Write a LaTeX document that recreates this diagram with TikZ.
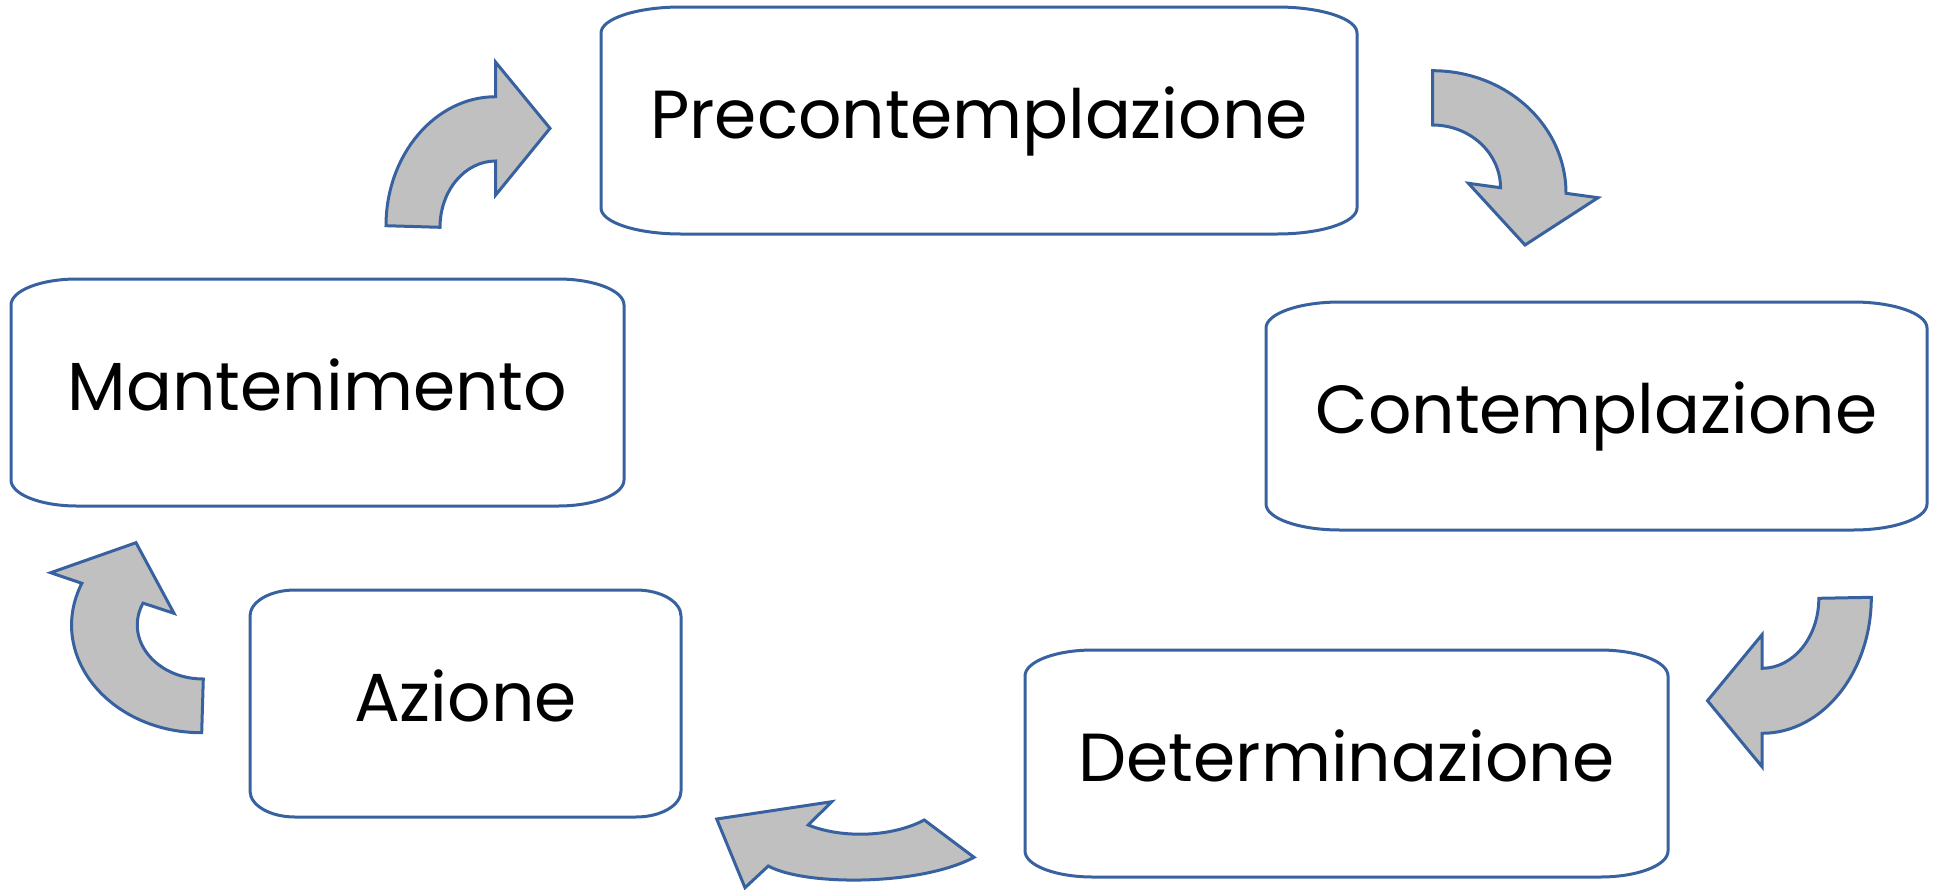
\documentclass[tikz,border=0pt]{standalone}
\usepackage{fontspec}
\setmainfont{Poppins}
\definecolor{edgeblue}{RGB}{56,97,160}
\definecolor{arrowgray}{RGB}{192,192,192}
\newcommand{\ovalbox}[2]{%
  \draw[edgeline] ([xshift=#2]#1.north west) -- ([xshift=-#2]#1.north east)
    arc[start angle=90, end angle=0, x radius=#2, y radius=13pt]
    -- ([yshift=13pt]#1.south east)
    arc[start angle=0, end angle=-90, x radius=#2, y radius=13pt]
    -- ([xshift=#2]#1.south west)
    arc[start angle=270, end angle=180, x radius=#2, y radius=13pt]
    -- ([yshift=-13pt]#1.north west)
    arc[start angle=180, end angle=90, x radius=#2, y radius=13pt]
    -- cycle;}
\begin{document}
\begin{tikzpicture}[x=0.5pt,y=-0.5pt,
  stage/.style={draw=none, inner sep=0pt, outer sep=0pt, text height=18pt, text depth=0.5pt,
    font=\fontsize{34}{38}\selectfont},
  edgeline/.style={draw=edgeblue, line width=1.5pt},
  bigarrow/.style={draw=edgeblue, fill=arrowgray, line width=1.5pt, line join=miter}]
\useasboundingbox (0,0) rectangle (1938,889);

\node[stage, minimum width=378pt, minimum height=113.5pt] (pre) at (979,120.5) {Precontemplazione};
\node[stage, minimum width=330.5pt, minimum height=114pt] (con) at (1596.5,416) {Contemplazione};
\node[stage, minimum width=321.5pt, minimum height=113.5pt] (det) at (1346.5,763.5) {Determinazione};
\node[stage, minimum width=215.5pt, minimum height=113.5pt] (azi) at (465.5,703.5) {Azione};
\node[stage, minimum width=306.5pt, minimum height=113.5pt] (man) at (317.5,392.5) {Mantenimento};

\ovalbox{pre}{40pt}
\ovalbox{con}{37pt}
\ovalbox{det}{34pt}
\ovalbox{azi}{22.5pt}
\ovalbox{man}{33pt}

% Mantenimento -> Precontemplazione
\draw[bigarrow] (440,227.3) -- (386,225.7) .. controls (386,154.8) and (435.2,96.7) .. (495.7,96.7)
  -- (495.7,62.3) -- (550,128.3) -- (495.7,195) -- (495.7,161)
  .. controls (465,161) and (440,190.5) .. (440,227.3) -- cycle;
% Precontemplazione -> Contemplazione
\draw[bigarrow] (1432.5,125) -- (1432.5,70.7) .. controls (1506.2,70.7) and (1566,125.3) .. (1566,193.3)
  -- (1598,197.7) -- (1525,245) -- (1468.4,183.3) -- (1500.5,187.7)
  .. controls (1500.5,153.1) and (1470,125) .. (1432.5,125) -- cycle;
% Contemplazione -> Determinazione
\draw[bigarrow] (1818.8,598.3) -- (1871.3,597.3) .. controls (1871.3,672.4) and (1822.4,733.3) .. (1762,733.3)
  -- (1762,766.7) -- (1707.5,700.7) -- (1762,634.7) -- (1762,668.3)
  .. controls (1793.4,668.3) and (1818.8,637) .. (1818.8,598.3) -- cycle;
% Determinazione -> Azione
\draw[bigarrow] (924.3,820) -- (974,857.3) .. controls (920,886) and (805,886) .. (768.3,866)
  -- (745,887.7) -- (716.7,819) -- (831.7,801.7) -- (808.3,825)
  .. controls (840,838) and (890,838) .. (924.3,820) -- cycle;
% Azione -> Mantenimento
\draw[bigarrow] (201.7,732.7) -- (203.3,679) .. controls (155.6,679) and (123.7,638.8) .. (143.0,603.1)
  -- (174,613.3) -- (136,542.7) -- (50.7,572.7) -- (81.85,583.3)
  .. controls (45.85,654.3) and (108.75,732.7) .. (201.7,732.7) -- cycle;
\end{tikzpicture}
\end{document}
